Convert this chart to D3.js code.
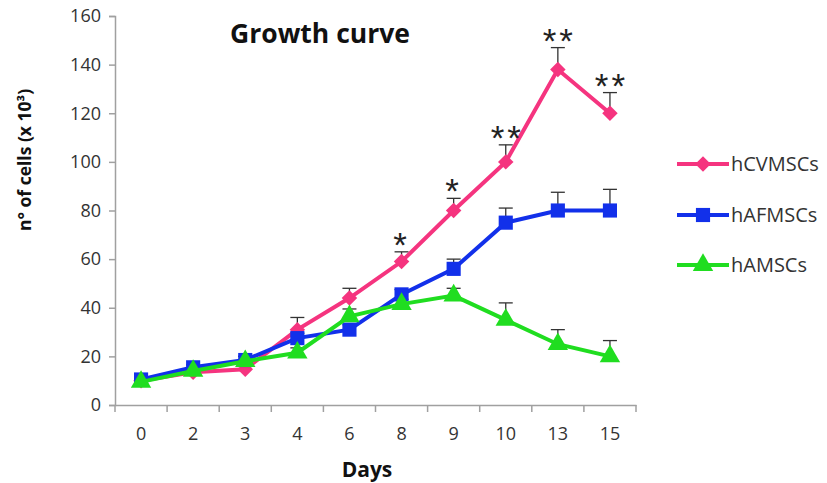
<!DOCTYPE html>
<html>
<head>
<meta charset="utf-8">
<script src="https://cdn.jsdelivr.net/npm/d3@7"></script>
<style>
body { margin: 0; background: #fff; }
text { font-family: "Open Sans", "Noto Sans", sans-serif; }
</style>
</head>
<body>
<script>
// data
var days = ["0", "2", "3", "4", "6", "8", "9", "10", "13", "15"];
var seriesNames = ["hCVMSCs", "hAFMSCs", "hAMSCs"];
var hCV = [10, 13.5, 14.7, 31, 44, 59, 80, 100, 138, 120];
var hCVErr = [1, 1, 1.5, 5, 4, 4, 5, 7, 9, 8.5];
var hAF = [10.5, 15.5, 18.5, 27.5, 31, 45.5, 56, 75, 80, 80];
var hAFErr = [1, 1, 1.5, 2, 2, 2, 4, 6, 7.5, 8.7];
var hAM = [9.5, 14, 18, 21.5, 36.5, 41.5, 45, 35, 25, 20];
var hAMErr = [1, 1, 2, 2, 3, 2, 3, 7, 6, 6.5];
var stars = ["", "", "", "", "", "*", "*", "**", "**", "**"];
var yTicks = [0, 20, 40, 60, 80, 100, 120, 140, 160];

var colors = ["#f5347f", "#1230ea", "#20dd20"];
var shapes = [d3.symbolSquare, d3.symbolSquare, d3.symbolTriangle];
var sizes = [120, 200, 180];
var rot = [45, 0, 0];

var values = [hCV, hAF, hAM];
var errs = [hCVErr, hAFErr, hAMErr];

var W = 827, H = 483;
var svg = d3.select("body").append("svg").attr("width", W).attr("height", H);

var x = d3.scaleBand().domain(days).range([115, 636]);
var y = d3.scaleLinear().domain([0, 160]).range([405, 16]);

// axes
var yAxis = svg.append("g").attr("transform", "translate(115,0)")
  .call(d3.axisLeft(y).tickValues(yTicks).tickSize(6).tickPadding(8));
var xAxis = svg.append("g").attr("transform", "translate(0,405)")
  .call(d3.axisBottom(x).tickSize(0).tickPadding(22));

[yAxis, xAxis].forEach(function(g) {
  g.select(".domain").attr("stroke", "#a0a0a0").attr("stroke-width", 1.5);
  g.selectAll(".tick line").attr("stroke", "#a0a0a0").attr("stroke-width", 1.5);
  g.selectAll("text").attr("fill", "#333").style("font-size", "18px")
    .style("font-family", "'Open Sans', sans-serif");
});

// x ticks at category boundaries
var bounds = days.map(function(d) { return x(d); }).concat([x.range()[1]]);
xAxis.selectAll(".bound").data(bounds).enter().append("line")
  .attr("x1", function(d) { return d; }).attr("x2", function(d) { return d; })
  .attr("y1", 0).attr("y2", 7)
  .attr("stroke", "#a0a0a0").attr("stroke-width", 1.5);

var cx = function(d, i) { return x(days[i]) + x.bandwidth() / 2; };

// error bars (upper only)
values.forEach(function(vals, s) {
  var g = svg.append("g");
  vals.forEach(function(v, i) {
    var top = y(v + errs[s][i]);
    g.append("line").attr("x1", cx(v, i)).attr("x2", cx(v, i))
      .attr("y1", y(v)).attr("y2", top).attr("stroke", "#333").attr("stroke-width", 1.3);
    g.append("line").attr("x1", cx(v, i) - 7).attr("x2", cx(v, i) + 7)
      .attr("y1", top).attr("y2", top).attr("stroke", "#333").attr("stroke-width", 1.3);
  });
});

// lines and markers, green drawn last like the picture
var line = d3.line().x(cx).y(function(d) { return y(d); });
[0, 1, 2].forEach(function(s) {
  svg.append("path").datum(values[s])
    .attr("d", line).attr("fill", "none")
    .attr("stroke", colors[s]).attr("stroke-width", 4);
  svg.selectAll(".m" + s).data(values[s]).enter().append("path")
    .attr("transform", function(d, i) {
      return "translate(" + cx(d, i) + "," + y(d) + ") rotate(" + rot[s] + ")";
    })
    .attr("d", d3.symbol().type(shapes[s]).size(sizes[s]))
    .attr("fill", colors[s]);
});

// significance stars
svg.selectAll(".star").data(stars).enter().append("text")
  .attr("x", function(d, i) { return cx(d, i) + (d.length > 1 ? 1.5 : 0); })
  .attr("y", function(d, i) { return y(hCV[i] + hCVErr[i]) + 5; })
  .attr("text-anchor", "middle")
  .style("font-size", "35px").style("letter-spacing", "3px").attr("fill", "#222")
  .style("font-family", "'Liberation Sans', sans-serif")
  .text(function(d) { return d; });

// title and labels
svg.append("text").attr("x", 320).attr("y", 43).attr("text-anchor", "middle")
  .style("font-size", "26.5px").style("font-weight", "bold").attr("fill", "#111")
  .text("Growth curve");

svg.append("text").attr("x", 367).attr("y", 477).attr("text-anchor", "middle")
  .style("font-size", "21px").style("font-weight", "bold").attr("fill", "#111")
  .text("Days");

svg.append("text").attr("transform", "translate(31,160) rotate(-90)")
  .attr("text-anchor", "middle")
  .style("font-size", "17.5px").style("font-weight", "bold").attr("fill", "#111")
  .text("n° of cells (x 10³)");

// legend
var legY = [164, 215, 265];
seriesNames.forEach(function(name, s) {
  var lg = svg.append("g").attr("transform", "translate(0," + legY[s] + ")");
  lg.append("line").attr("x1", 677).attr("x2", 729).attr("y1", 0).attr("y2", 0)
    .attr("stroke", colors[s]).attr("stroke-width", 4);
  lg.append("path").attr("transform", "translate(703,0) rotate(" + rot[s] + ")")
    .attr("d", d3.symbol().type(shapes[s]).size(sizes[s]))
    .attr("fill", colors[s]);
  lg.append("text").attr("x", 731).attr("y", 0).attr("dy", "0.35em")
    .style("font-size", "20px").attr("fill", "#333").text(name);
});
</script>
</body>
</html>
